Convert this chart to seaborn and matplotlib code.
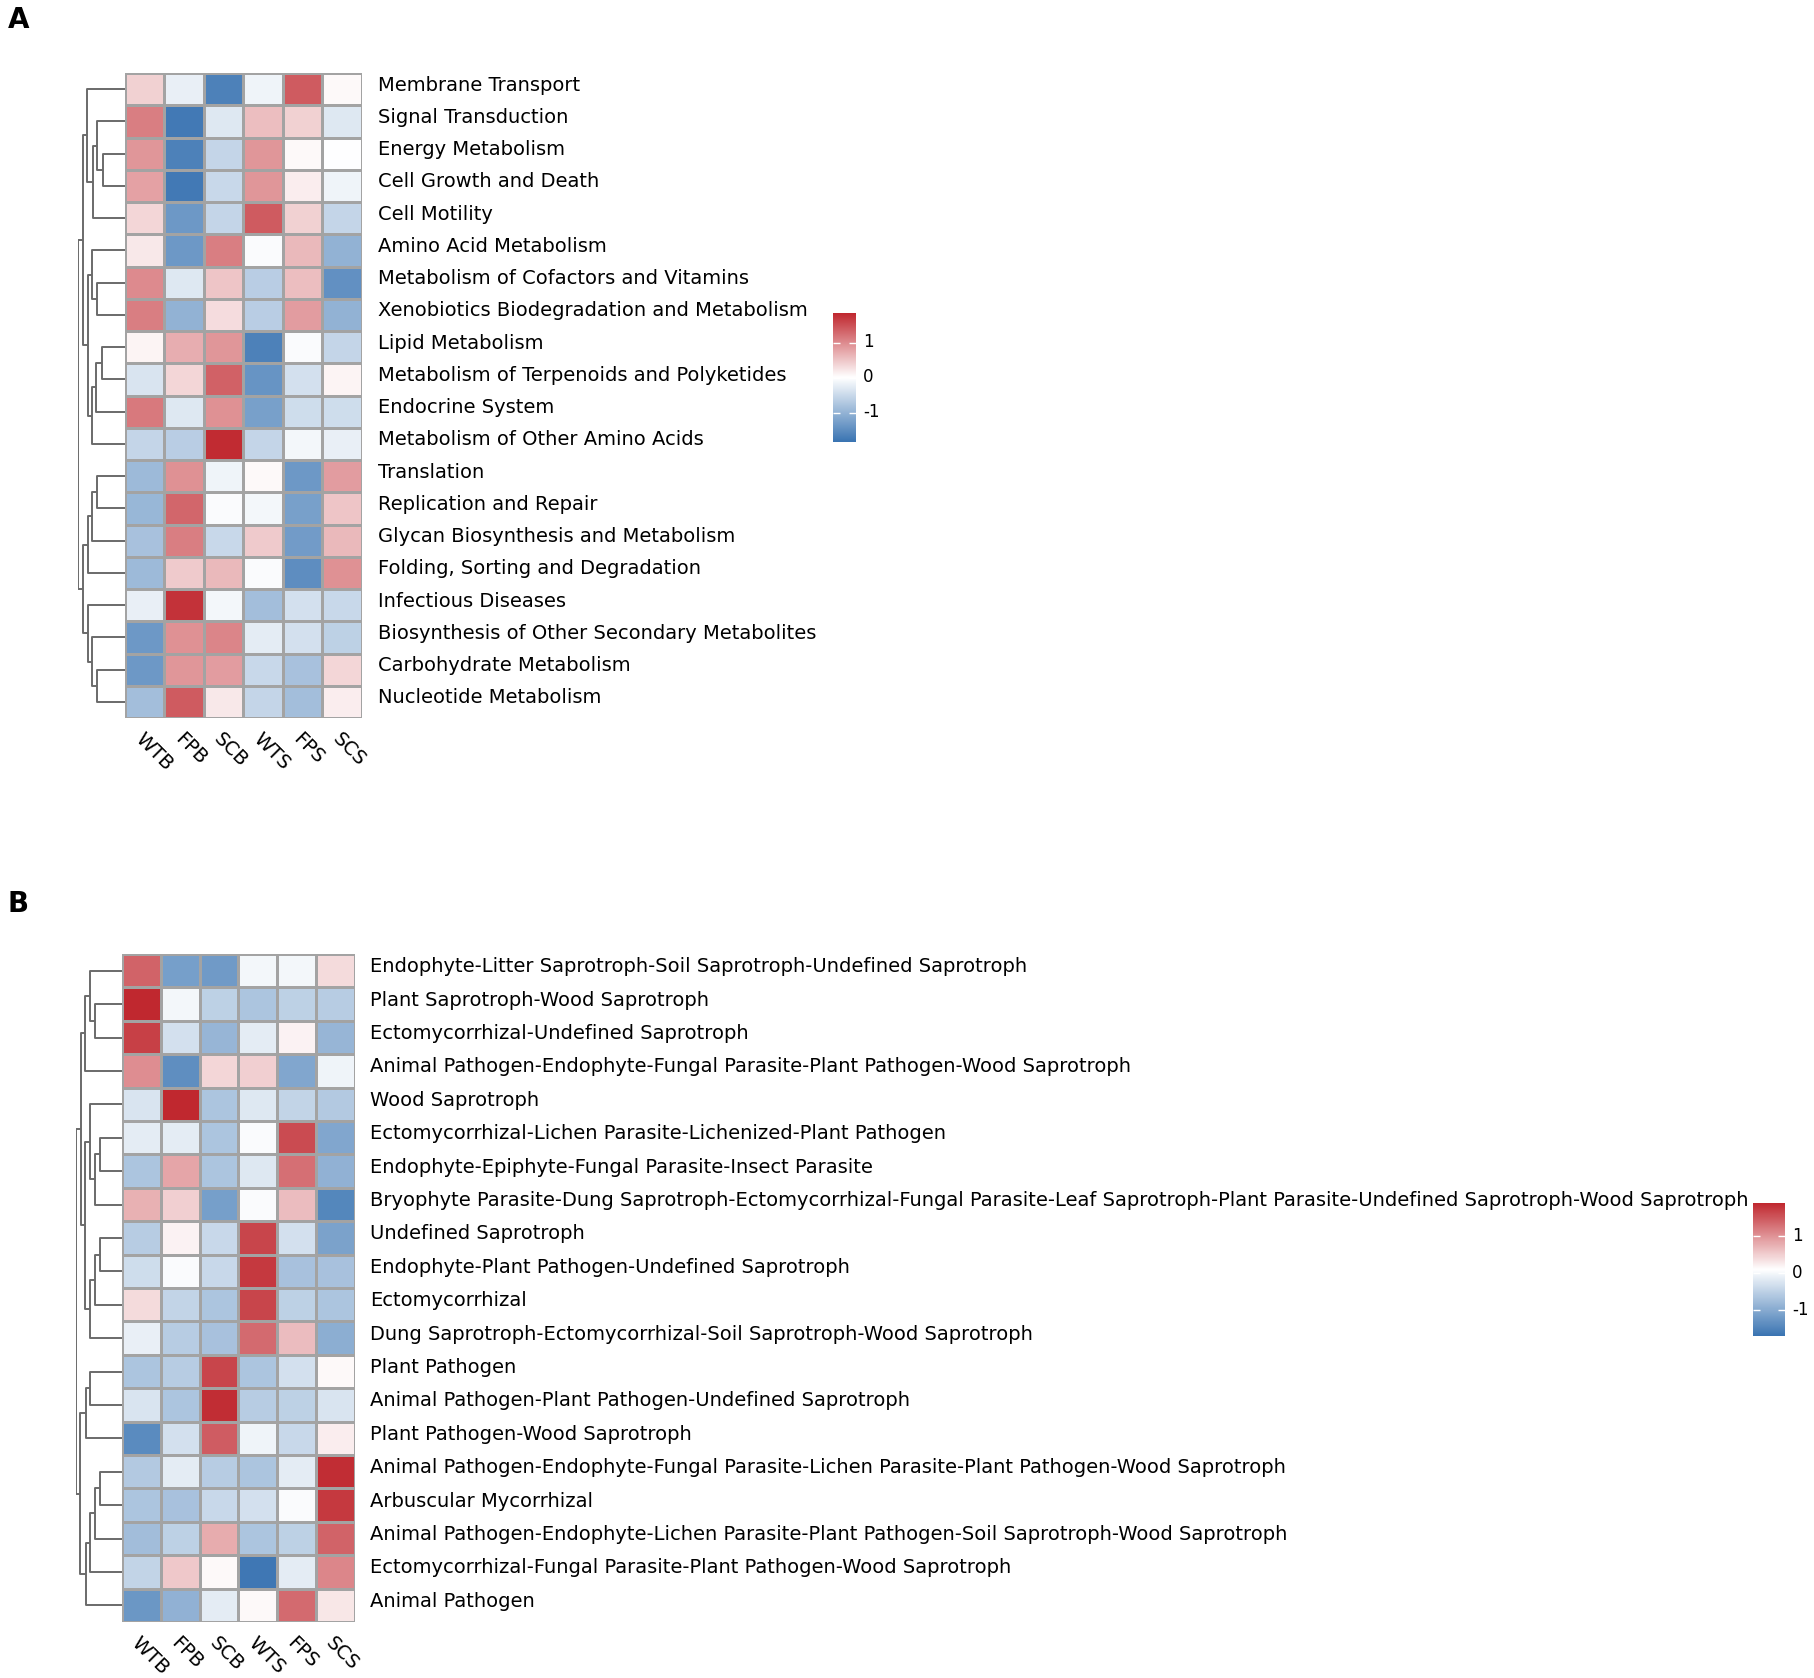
import numpy as np
import pandas as pd
import matplotlib
matplotlib.use("Agg")
import matplotlib.pyplot as plt
import seaborn as sns
from matplotlib.colors import LinearSegmentedColormap
from matplotlib.transforms import ScaledTranslation

plt.rcParams["font.family"] = ["DejaVu Sans"]
plt.rcParams["axes.unicode_minus"] = False

# ==========================
# Data
# ==========================

samples = ["WTB", "FPB", "SCB", "WTS", "FPS", "SCS"]

kegg_pathways = [
    "Membrane Transport",
    "Signal Transduction",
    "Energy Metabolism",
    "Cell Growth and Death",
    "Cell Motility",
    "Amino Acid Metabolism",
    "Metabolism of Cofactors and Vitamins",
    "Xenobiotics Biodegradation and Metabolism",
    "Lipid Metabolism",
    "Metabolism of Terpenoids and Polyketides",
    "Endocrine System",
    "Metabolism of Other Amino Acids",
    "Translation",
    "Replication and Repair",
    "Glycan Biosynthesis and Metabolism",
    "Folding, Sorting and Degradation",
    "Infectious Diseases",
    "Biosynthesis of Other Secondary Metabolites",
    "Carbohydrate Metabolism",
    "Nucleotide Metabolism",
]

# row z-scores, columns follow `samples`
kegg_values = [
    [0.40, -0.20, -1.65, -0.15, 1.40, 0.05],
    [1.10, -1.75, -0.30, 0.55, 0.40, -0.30],
    [0.90, -1.65, -0.55, 0.90, 0.05, 0.00],
    [0.80, -1.75, -0.50, 0.90, 0.15, -0.15],
    [0.35, -1.35, -0.55, 1.40, 0.40, -0.55],
    [0.20, -1.35, 1.10, -0.05, 0.60, -1.00],
    [1.00, -0.30, 0.50, -0.65, 0.55, -1.45],
    [1.10, -1.00, 0.30, -0.65, 0.85, -1.00],
    [0.10, 0.70, 0.90, -1.65, -0.05, -0.55],
    [-0.35, 0.35, 1.35, -1.40, -0.40, 0.10],
    [1.15, -0.30, 0.95, -1.25, -0.45, -0.45],
    [-0.55, -0.65, 1.80, -0.55, -0.10, -0.20],
    [-0.90, 0.95, -0.15, 0.05, -1.35, 0.85],
    [-0.95, 1.30, -0.05, -0.10, -1.25, 0.50],
    [-0.80, 1.10, -0.50, 0.45, -1.30, 0.60],
    [-0.90, 0.45, 0.60, -0.05, -1.50, 0.95],
    [-0.20, 1.75, -0.10, -0.85, -0.40, -0.50],
    [-1.35, 0.95, 1.05, -0.25, -0.40, -0.60],
    [-1.35, 0.90, 0.85, -0.50, -0.80, 0.35],
    [-0.85, 1.40, 0.20, -0.55, -0.85, 0.15],
]

# row tree, scipy style: (child a, child b, height); new nodes numbered from 20
kegg_linkage = [
    (2, 3, 22.3), (1, 20, 28.3), (21, 4, 31.7), (0, 22, 37.7),
    (6, 7, 28.3), (5, 24, 32.7), (8, 9, 23.3), (26, 10, 28.7),
    (27, 11, 32.7), (25, 28, 37.0), (23, 29, 41.7),
    (12, 13, 28.3), (31, 14, 32.7), (32, 15, 37.3),
    (18, 19, 28.3), (17, 34, 32.7), (16, 35, 37.3),
    (33, 36, 42.3), (30, 37, 47.0),
]

fungal_guilds = [
    "Endophyte-Litter Saprotroph-Soil Saprotroph-Undefined Saprotroph",
    "Plant Saprotroph-Wood Saprotroph",
    "Ectomycorrhizal-Undefined Saprotroph",
    "Animal Pathogen-Endophyte-Fungal Parasite-Plant Pathogen-Wood Saprotroph",
    "Wood Saprotroph",
    "Ectomycorrhizal-Lichen Parasite-Lichenized-Plant Pathogen",
    "Endophyte-Epiphyte-Fungal Parasite-Insect Parasite",
    "Bryophyte Parasite-Dung Saprotroph-Ectomycorrhizal-Fungal Parasite-Leaf Saprotroph-Plant Parasite-Undefined Saprotroph-Wood Saprotroph",
    "Undefined Saprotroph",
    "Endophyte-Plant Pathogen-Undefined Saprotroph",
    "Ectomycorrhizal",
    "Dung Saprotroph-Ectomycorrhizal-Soil Saprotroph-Wood Saprotroph",
    "Plant Pathogen",
    "Animal Pathogen-Plant Pathogen-Undefined Saprotroph",
    "Plant Pathogen-Wood Saprotroph",
    "Animal Pathogen-Endophyte-Fungal Parasite-Lichen Parasite-Plant Pathogen-Wood Saprotroph",
    "Arbuscular Mycorrhizal",
    "Animal Pathogen-Endophyte-Lichen Parasite-Plant Pathogen-Soil Saprotroph-Wood Saprotroph",
    "Ectomycorrhizal-Fungal Parasite-Plant Pathogen-Wood Saprotroph",
    "Animal Pathogen",
]

guild_values = [
    [1.40, -1.15, -1.20, 0.00, 0.00, 0.40],
    [1.90, 0.00, -0.50, -0.65, -0.50, -0.55],
    [1.70, -0.30, -0.85, -0.15, 0.20, -0.85],
    [1.05, -1.35, 0.45, 0.50, -1.05, -0.05],
    [-0.25, 1.90, -0.65, -0.20, -0.45, -0.60],
    [-0.15, -0.15, -0.65, 0.05, 1.60, -1.05],
    [-0.65, 0.85, -0.65, -0.20, 1.30, -0.90],
    [0.75, 0.50, -1.15, 0.05, 0.65, -1.45],
    [-0.55, 0.20, -0.40, 1.65, -0.30, -1.10],
    [-0.35, 0.05, -0.40, 1.75, -0.70, -0.70],
    [0.40, -0.45, -0.65, 1.65, -0.50, -0.65],
    [-0.10, -0.55, -0.70, 1.35, 0.65, -0.95],
    [-0.65, -0.55, 1.65, -0.65, -0.30, 0.15],
    [-0.25, -0.65, 1.85, -0.55, -0.50, -0.25],
    [-1.40, -0.30, 1.45, -0.05, -0.40, 0.25],
    [-0.60, -0.15, -0.55, -0.65, -0.15, 1.85],
    [-0.65, -0.70, -0.40, -0.30, 0.05, 1.75],
    [-0.75, -0.50, 0.80, -0.65, -0.50, 1.40],
    [-0.45, 0.55, 0.15, -1.65, -0.15, 1.10],
    [-1.25, -0.90, -0.15, 0.15, 1.35, 0.30],
]

guild_linkage = [
    (1, 2, 27.3), (0, 20, 32.3), (21, 3, 36.7),
    (5, 6, 22.3), (23, 7, 27.3), (4, 24, 32.3),
    (8, 9, 22.3), (26, 10, 26.6), (27, 11, 31.6),
    (25, 28, 36.8), (22, 29, 41.3),
    (12, 13, 31.6), (31, 14, 36.3),
    (15, 16, 22.3), (33, 17, 27.3), (34, 18, 31.6), (35, 19, 36.3),
    (32, 36, 41.6), (30, 37, 46.3),
]

# ==========================
# Helpers
# ==========================

W, H = 1815, 1678
cmap = LinearSegmentedColormap.from_list("bwr_ph", ["#3A74B2", "#FFFFFF", "#C0282F"])


def px_axes(fig, x0, y0, x1, y1):
    return fig.add_axes([x0 / W, 1 - y1 / H, (x1 - x0) / W, (y1 - y0) / H])


def nudge_up(labels, fig, px):
    shift = ScaledTranslation(0, px / 100, fig.dpi_scale_trans)
    for lab in labels:
        lab.set_transform(lab.get_transform() + shift)


def draw_dendrogram(ax, linkage, n_leaves):
    pos = {i: i + 0.5 for i in range(n_leaves)}
    hgt = {i: 0.0 for i in range(n_leaves)}
    for k, (a, b, h) in enumerate(linkage):
        ax.plot([hgt[a], h, h, hgt[b]], [pos[a], pos[a], pos[b], pos[b]],
                color="#6a6a6a", lw=1.4, solid_capstyle="butt")
        pos[n_leaves + k] = (pos[a] + pos[b]) / 2
        hgt[n_leaves + k] = h
    ax.set_ylim(n_leaves, 0)
    ax.set_xlim(max(hgt.values()), 0)
    ax.axis("off")


def draw_heatmap(ax, cax, df, vmin, vmax, ypad):
    sns.heatmap(df, ax=ax, cbar_ax=cax, cmap=cmap, vmin=vmin, vmax=vmax,
                linewidths=1, linecolor="#a3a3a3",
                cbar_kws={"ticks": [-1, 0, 1]})
    ax.set_xlabel("")
    ax.set_ylabel("")
    ax.yaxis.tick_right()
    ax.set_yticks(np.arange(len(df.index)) + 0.5)
    ax.set_yticklabels(df.index, rotation=0, fontsize=14)
    ax.tick_params(axis="y", length=0, pad=ypad)
    ax.set_xticklabels(df.columns, rotation=-45, ha="left", va="top",
                       rotation_mode="anchor", fontsize=14)
    ax.tick_params(axis="x", length=0, pad=8.5)
    nudge_up(ax.get_yticklabels(), ax.figure, 6)

    cbar = ax.collections[0].colorbar
    cbar.outline.set_visible(False)
    cax.tick_params(direction="in", length=5, width=1, color="white",
                    left=True, right=True, labelleft=False, labelright=True,
                    labelsize=12, pad=5)
    nudge_up(cax.get_yticklabels(), ax.figure, 2.5)


# ==========================
# Figure
# ==========================

fig = plt.figure(figsize=(W / 100, H / 100), dpi=100)

kegg_df = pd.DataFrame(kegg_values, index=kegg_pathways, columns=samples)
guild_df = pd.DataFrame(guild_values, index=fungal_guilds, columns=samples)

# panel A
ax_a = px_axes(fig, 125, 73, 362, 718)
cax_a = px_axes(fig, 833, 313, 856, 442)
dend_a = px_axes(fig, 78, 73, 125, 718)
draw_heatmap(ax_a, cax_a, kegg_df, -1.83, 1.84, 11.5)
draw_dendrogram(dend_a, kegg_linkage, len(kegg_pathways))

# panel B
ax_b = px_axes(fig, 122, 954, 355, 1622)
cax_b = px_axes(fig, 1753, 1203, 1785, 1336)
dend_b = px_axes(fig, 75.7, 954, 122, 1622)
draw_heatmap(ax_b, cax_b, guild_df, -1.70, 1.90, 10.8)
draw_dendrogram(dend_b, guild_linkage, len(fungal_guilds))

fig.text(8 / W, 1 - 6 / H, "A", fontsize=20, fontweight="bold", va="top")
fig.text(8 / W, 1 - 890 / H, "B", fontsize=20, fontweight="bold", va="top")

fig.savefig("out.png", dpi=100)
